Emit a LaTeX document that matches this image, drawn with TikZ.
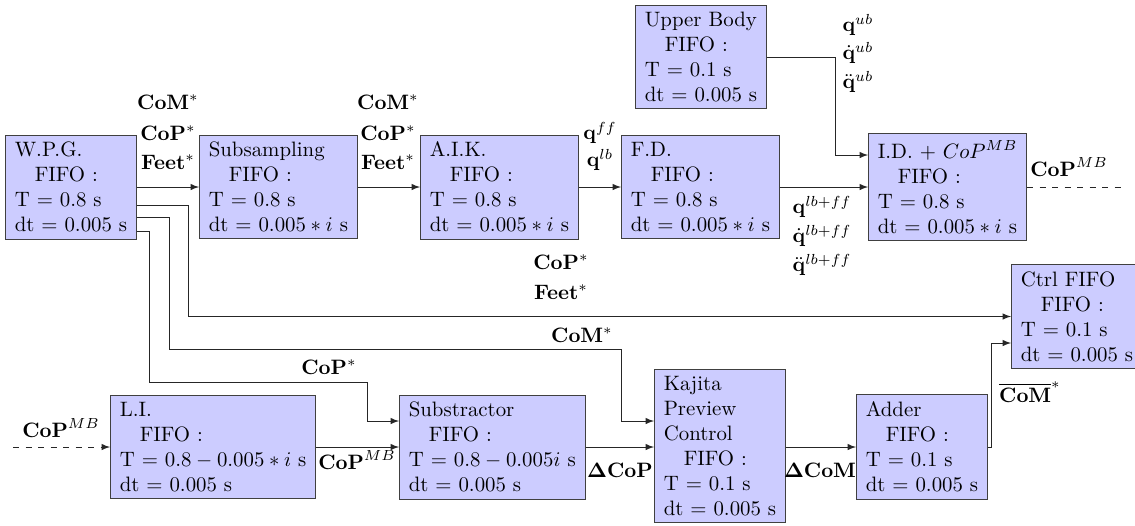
\documentclass[tikz,border=0pt]{standalone}
\usetikzlibrary{arrows.meta}
\newcommand{\fifoline}{\hspace*{9.6pt}FIFO :}
\begin{document}
\begin{tikzpicture}[x=0.48pt,y=-0.48pt,
  blk/.style={draw=black!75, fill=blue!20, align=left, anchor=west, inner xsep=4.5pt},
  arr/.style={-latex, draw=black!85},
  con/.style={draw=black!85},
  lbl/.style={inner sep=0pt}]
\useasboundingbox (0,0) rectangle (1135,525);
% blocks
\node[blk] (wpg) at (5,187) {W.P.G.\\\fifoline\\T = 0.8 s\\dt = 0.005 s};
\node[blk] (sub) at (199,187) {Subsampling\\\fifoline\\T = 0.8 s\\dt = $0.005*i$ s};
\node[blk] (aik) at (420,187) {A.I.K.\\\fifoline\\T = 0.8 s\\dt = $0.005*i$ s};
\node[blk] (fd) at (621,187) {F.D.\\\fifoline\\T = 0.8 s\\dt = $0.005*i$ s};
\node[blk] (ub) at (635,57) {Upper Body\\\fifoline\\T = 0.1 s\\dt = 0.005 s};
\node[blk] (id) at (868,187) {I.D. + $CoP^{MB}$\\\fifoline\\T = 0.8 s\\dt = $0.005*i$ s};
\node[blk] (ctrl) at (1011,316.5) {Ctrl FIFO\\\fifoline\\T = 0.1 s\\dt = 0.005 s};
\node[blk] (li) at (110,447) {L.I.\\\fifoline\\T = $0.8-0.005*i$ s\\dt = 0.005 s};
\node[blk] (subt) at (399,447) {Substractor\\\fifoline\\T = $0.8-0.005i$ s\\dt = 0.005 s};
\node[blk] (kaj) at (654,446) {Kajita\\Preview\\Control\\\fifoline\\T = 0.1 s\\dt = 0.005 s};
\node[blk] (add) at (856,447) {Adder\\\fifoline\\T = 0.1 s\\dt = 0.005 s};
% free ends and bends
\coordinate (idout) at (1122,187);
\coordinate (liin) at (13,447);
\coordinate (ubb) at (835,155);
\coordinate (c1) at (188,317);
\coordinate (c2a) at (169,349);
\coordinate (c2b) at (621,421);
\coordinate (c3a) at (149,382);
\coordinate (c3b) at (367,421);
\coordinate (c4) at (991,343);
% connectors
\draw[arr] (wpg.east) -- (sub.west);
\draw[arr] (sub.east) -- (aik.west);
\draw[arr] (aik.east) -- (fd.west);
\draw[arr] (fd.east) -- (id.west);
\draw[arr] (ub.east) -| (ubb) -- (id.west |- ubb);
\draw[con, dashed] (id.east) -- (idout);
\draw[arr, dashed] (liin) -- (li.west);
\draw[arr] (wpg.east |- 0,205) -| (ctrl.west -| c1) -- (ctrl.west);
\draw[arr] (wpg.east |- 0,217) -| (c2a) -| (c2b) -- (kaj.west |- c2b);
\draw[arr] (wpg.east |- 0,231) -| (c3a) -| (c3b) -- (subt.west |- c3b);
\draw[arr] (li.east) -- (subt.west);
\draw[arr] (subt.east) -- (kaj.west |- subt.east);
\draw[arr] (kaj.east |- add.west) -- (add.west);
\draw[arr] (add.east) -| (c4) -- (ctrl.west |- c4);
% labels
\node[lbl] (a1) at (168,102) {\textbf{CoM}$^*$};
\node[lbl] (a2) at (168,133) {\textbf{CoP}$^*$};
\node[lbl] (a3) at (168,162) {\textbf{Feet}$^*$};
\node[lbl] (b1) at (388,102) {\textbf{CoM}$^*$};
\node[lbl] (b2) at (388,133) {\textbf{CoP}$^*$};
\node[lbl] (b3) at (388,162) {\textbf{Feet}$^*$};
\node[lbl] (q1) at (600,133) {$\mathbf{q}^{ff}$};
\node[lbl] (q2) at (600,160) {$\mathbf{q}^{lb}$};
\node[lbl] (u1) at (858,25) {$\mathbf{q}^{ub}$};
\node[lbl] (u2) at (858,53) {$\dot{\mathbf{q}}^{ub}$};
\node[lbl] (u3) at (858,82) {$\ddot{\mathbf{q}}^{ub}$};
\node[lbl] (f1) at (822,207) {$\mathbf{q}^{lb+ff}$};
\node[lbl] (f2) at (822,236) {$\dot{\mathbf{q}}^{lb+ff}$};
\node[lbl] (f3) at (822,265) {$\ddot{\mathbf{q}}^{lb+ff}$};
\node[lbl] (o1) at (1069,167) {$\mathbf{CoP}^{MB}$};
\node[lbl] (c1a) at (561,262) {\textbf{CoP}$^*$};
\node[lbl] (c1b) at (561,292) {\textbf{Feet}$^*$};
\node[lbl] (c2l) at (582,335) {\textbf{CoM}$^*$};
\node[lbl] (c3l) at (329,367) {\textbf{CoP}$^*$};
\node[lbl] (i1) at (61,428) {$\mathbf{CoP}^{MB}$};
\node[lbl] (i2) at (357,460) {$\mathbf{CoP}^{MB}$};
\node[lbl] (d1) at (620,470) {$\mathbf{\Delta CoP}$};
\node[lbl] (d2) at (820,470) {$\mathbf{\Delta CoM}$};
\node[lbl] (d3) at (1030,392) {$\overline{\mathbf{CoM}}^*$};
\end{tikzpicture}
\end{document}
